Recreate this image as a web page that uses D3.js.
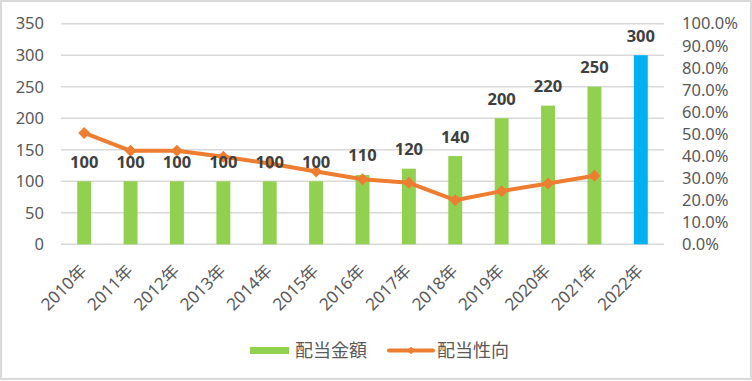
<!DOCTYPE html>
<html><head><meta charset="utf-8">
<script src="https://cdn.jsdelivr.net/npm/d3@7"></script>
<style>body{margin:0;background:#fff}svg{display:block}</style>
</head><body>
<script>
const categories = ["2010年","2011年","2012年","2013年","2014年","2015年","2016年","2017年","2018年","2019年","2020年","2021年","2022年"];
const dividendAmount = [100,100,100,100,100,100,110,120,140,200,220,250,300];
const payoutRatio = [50.5,42.4,42.4,39.7,36.6,33.0,29.5,27.9,20.0,24.1,27.6,31.1];
const leftTicks = [0,50,100,150,200,250,300,350];
const rightTicks = [0,10,20,30,40,50,60,70,80,90,100];
const seriesNames = ["配当金額","配当性向"];

const W=752,H=381;
const svg=d3.select("body").append("svg").attr("width",W).attr("height",H);
const font='"Noto Sans","Noto Sans CJK JP",sans-serif';
svg.append("rect").attr("x",1).attr("y",1).attr("width",W-2).attr("height",H-3)
  .attr("fill","#fff").attr("stroke","#D9D9D9").attr("stroke-width",2);

const L=61,R=664,T=23.7,B=244.3;
const x=d3.scaleBand().domain(categories).range([L,R]).paddingInner(0.7).paddingOuter(0.35);
const xc=d3.scaleBand().domain(categories).range([L,R]);
const y=d3.scaleLinear().domain([0,350]).range([B,T]);
const y2=d3.scaleLinear().domain([0,100]).range([B,T]);

// gridlines
svg.append("g").selectAll("line").data(leftTicks).join("line")
  .attr("x1",L).attr("x2",R).attr("y1",d=>y(d)).attr("y2",d=>y(d))
  .attr("stroke","#D9D9D9").attr("stroke-width",1.5);

// left axis
const la=svg.append("g").attr("transform",`translate(${44},0)`)
  .call(d3.axisLeft(y).tickValues(leftTicks).tickSize(0).tickPadding(0));
la.select(".domain").remove();
la.selectAll("text").attr("font-family",font).attr("font-size",16.5).attr("fill","#595959");

// right axis
const ra=svg.append("g").attr("transform",`translate(${682},0)`)
  .call(d3.axisRight(y2).tickValues(rightTicks).tickSize(0).tickPadding(0).tickFormat(d=>d.toFixed(1)+"%"));
ra.select(".domain").remove();
ra.selectAll("text").attr("font-family",font).attr("font-size",16.5).attr("fill","#595959");

// bars
svg.append("g").selectAll("rect").data(categories).join("rect")
  .attr("x",d=>x(d)).attr("width",x.bandwidth())
  .attr("y",(d,i)=>y(dividendAmount[i])).attr("height",(d,i)=>B-y(dividendAmount[i]))
  .attr("fill",(d,i)=>i===categories.length-1?"#00B0F0":"#92D050");

// x labels
svg.append("g").selectAll("text").data(categories).join("text")
  .attr("transform",d=>`translate(${xc(d)+xc.bandwidth()/2+3.5},${272}) rotate(-45)`)
  .attr("text-anchor","end")
  .attr("font-family",font).attr("font-size",17).attr("fill","#595959").text(d=>d);

// line
const cx=(i)=>xc(categories[i])+xc.bandwidth()/2;
const line=d3.line().x((d,i)=>cx(i)).y(d=>y2(d));
svg.append("path").datum(payoutRatio).attr("d",line).attr("fill","none")
  .attr("stroke","#ED7D31").attr("stroke-width",4).attr("stroke-linejoin","round");
svg.append("g").selectAll("path").data(payoutRatio).join("path")
  .attr("d",d3.symbol(d3.symbolSquare,72))
  .attr("transform",(d,i)=>`translate(${cx(i)},${y2(d)}) rotate(45)`)
  .attr("fill","#ED7D31");

// data labels
svg.append("g").selectAll("text").data(dividendAmount).join("text")
  .attr("x",(d,i)=>cx(i)).attr("y",d=>y(d)-13.5).attr("text-anchor","middle")
  .attr("font-family",font).attr("font-size",16.5).attr("font-weight","bold").attr("fill","#404040")
  .text(d=>d);

// legend
const lg=svg.append("g");
lg.append("rect").attr("x",250).attr("y",347).attr("width",39).attr("height",7).attr("fill","#92D050");
lg.append("text").attr("x",295).attr("y",357).attr("font-family",font).attr("font-size",18).attr("fill","#595959").text(seriesNames[0]);
lg.append("line").attr("x1",389).attr("x2",433).attr("y1",350.5).attr("y2",350.5).attr("stroke","#ED7D31").attr("stroke-width",4).attr("stroke-linecap","round");
lg.append("path").attr("d",d3.symbol(d3.symbolSquare,30)).attr("transform","translate(411,350.5) rotate(45)").attr("fill","#ED7D31");
lg.append("text").attr("x",437).attr("y",357).attr("font-family",font).attr("font-size",18).attr("fill","#595959").text(seriesNames[1]);
</script>
</body></html>
